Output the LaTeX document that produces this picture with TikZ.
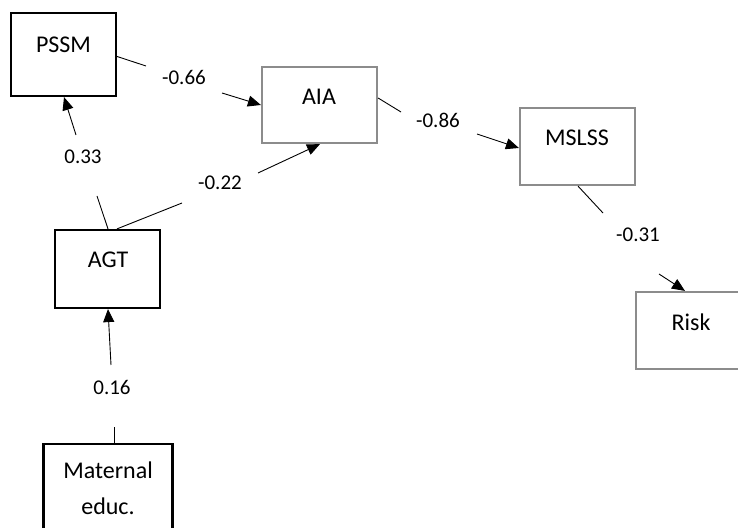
\documentclass[tikz,border=0pt]{standalone}
\usepackage{fontspec}
\setmainfont{Carlito}
\usetikzlibrary{arrows.meta}
\definecolor{boxgray}{RGB}{140,140,140}
\tikzset{
  blackbox/.style={draw=black, line width=1.1pt, rectangle, inner sep=0pt},
  graybox/.style={draw=boxgray, line width=1.1pt, rectangle, inner sep=0pt},
  txt/.style={font=\fontsize{12}{18}\selectfont, inner sep=0pt, align=center},
  lbl/.style={font=\fontsize{10.5}{12.6}\selectfont, inner sep=0pt},
  conn/.style={draw=black, line width=0.45pt},
  arr/.style={conn, -{Triangle[length=6.5pt,width=5.5pt]}},
}
\begin{document}
\begin{tikzpicture}[x=0.5pt,y=-0.5pt]
\useasboundingbox (0,0) rectangle (738,528);
\clip (0,0) rectangle (738,528);
% boxes
\node[blackbox, minimum width=52.5pt, minimum height=41.5pt] (pssm) at (63.5,54.5) {};
\node[graybox, minimum width=57.5pt, minimum height=38pt] (aia) at (319.5,105) {};
\node[graybox, minimum width=57.5pt, minimum height=38.5pt] (mslss) at (577.5,146.5) {};
\node[graybox, minimum width=60pt, minimum height=38.5pt] (risk) at (696,330.5) {};
\node[blackbox, minimum width=52.5pt, minimum height=39pt] (agt) at (107.5,269) {};
\node[blackbox, minimum width=64.5pt, minimum height=60pt] (mat) at (108,504) {};
% box texts
\node[txt] (tpssm) at (63.5,45) {PSSM};
\node[txt] (taia) at (319,97) {AIA};
\node[txt] (tmslss) at (577,138) {MSLSS};
\node[txt] (trisk) at (691,322) {Risk};
\node[txt] (tagt) at (108,260) {AGT};
\node[txt] (tmat) at (108,488) {Maternal\\educ.};
% free ends of connectors
\coordinate (c1a) at (146,66);  \coordinate (c1b) at (222,93);
\coordinate (c2a) at (97,196);  \coordinate (c2b) at (76,135);
\coordinate (c3a) at (182,203); \coordinate (c3b) at (258,173);
\coordinate (c4a) at (401,112); \coordinate (c4b) at (477,134);
\coordinate (c5a) at (603,213); \coordinate (c5b) at (659,274);
\coordinate (c6a) at (114,427); \coordinate (c6b) at (111,365);
% labels
\node[lbl] (l1) at (184,77) {-0.66};
\node[lbl] (l2) at (83,157) {0.33};
\node[lbl] (l3) at (220,183) {-0.22};
\node[lbl] (l4) at (438,120) {-0.86};
\node[lbl] (l5) at (638,235) {-0.31};
\node[lbl] (l6) at (112,387) {0.16};
% connectors
\draw[conn] ([yshift=-1pt]pssm.east) -- (c1a);
\draw[arr] (c1b) -- (aia.west);
\draw[conn] ([xshift=0.25pt]agt.north) -- (c2a);
\draw[arr] (c2b) -- ([xshift=0.25pt]pssm.south);
\draw[conn] ([xshift=4.75pt]agt.north) -- (c3a);
\draw[arr] (c3b) -- ([xshift=0.25pt]aia.south);
\draw[conn] ([yshift=3.5pt]aia.east) -- (c4a);
\draw[arr] (c4b) -- ([yshift=-0.75pt]mslss.west);
\draw[conn] ([xshift=0.25pt]mslss.south) -- (c5a);
\draw[arr] (c5b) -- ([xshift=-5.5pt]risk.north);
\draw[conn] ([xshift=3pt]mat.north) -- (c6a);
\draw[arr] (c6b) -- ([xshift=0.25pt]agt.south);
\end{tikzpicture}
\end{document}
